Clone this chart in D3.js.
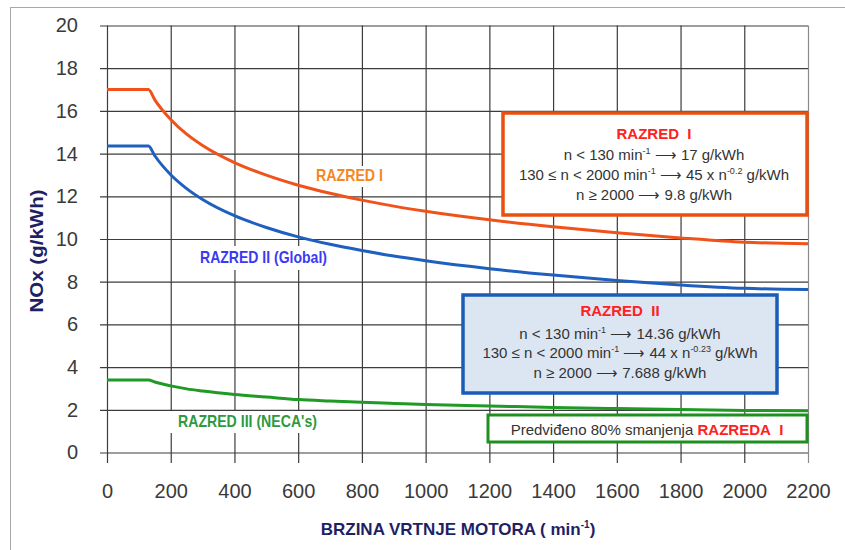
<!DOCTYPE html>
<html>
<head>
<meta charset="utf-8">
<script src="https://cdn.jsdelivr.net/npm/d3@7"></script>
<style>
  html, body { margin: 0; padding: 0; background: #fff; }
  svg { display: block; }
  .narrow { font-family: "Liberation Sans Narrow", "Arial Narrow", "Liberation Sans", Arial, sans-serif; }
</style>
</head>
<body>
<svg id="chart" width="845" height="550"></svg>
<script>
// ---- data ----
const speeds   = [0, 130, 150, 200, 250, 300, 400, 500, 600, 700, 800, 900, 1000, 1200, 1400, 1600, 1800, 2000, 2200];
const razredI  = [17, 17, 16.52, 15.60, 14.91, 14.38, 13.58, 12.99, 12.52, 12.14, 11.82, 11.54, 11.30, 10.90, 10.57, 10.29, 10.05, 9.85, 9.78];
const razredII = [14.36, 14.36, 13.90, 13.01, 12.36, 11.85, 11.09, 10.54, 10.10, 9.75, 9.46, 9.20, 8.98, 8.61, 8.31, 8.06, 7.85, 7.69, 7.63];
const razredIII= [3.40, 3.40, 3.30, 3.12, 2.98, 2.88, 2.72, 2.60, 2.48, 2.41, 2.35, 2.30, 2.25, 2.18, 2.11, 2.06, 2.01, 1.97, 1.95];
const xTicks = [0, 200, 400, 600, 800, 1000, 1200, 1400, 1600, 1800, 2000, 2200];
const yTicks = [0, 2, 4, 6, 8, 10, 12, 14, 16, 18, 20];

const svg = d3.select("#chart");

// outer frame
svg.append("rect").attr("x", 10.5).attr("y", 7.5).attr("width", 860).attr("height", 580)
  .attr("fill", "none").attr("stroke", "#a8a8a8").attr("stroke-width", 1);

const x = d3.scaleLinear().domain([0, 2200]).range([107, 808]);
const y = d3.scaleLinear().domain([0, 20]).range([452.5, 25.5]);

const gridColor = "#3c3c3c";

// y axis with gridlines
const yAxis = svg.append("g").attr("transform", `translate(${x(0)},0)`)
  .call(d3.axisLeft(y).tickValues(yTicks).tickFormat(d3.format("d"))
    .tickSize(-(x(2200) - x(0))).tickSizeOuter(0).tickPadding(29));
yAxis.select(".domain").remove();
yAxis.selectAll(".tick line").attr("x1", -7).attr("stroke", gridColor).attr("stroke-width", 1.2);
yAxis.selectAll(".tick text").attr("font-family", "Liberation Sans, Arial, sans-serif")
  .attr("font-size", 20).attr("fill", "#3a3a3a");

// x axis with gridlines
const xAxis = svg.append("g").attr("transform", `translate(0,${y(0)})`)
  .call(d3.axisBottom(x).tickValues(xTicks).tickFormat(d3.format("d"))
    .tickSize(-(y(0) - y(20))).tickSizeOuter(0).tickPadding(31));
xAxis.select(".domain").remove();
xAxis.selectAll(".tick line").attr("y1", 10.5)
  .attr("stroke", (d) => d === 2200 ? "#8a8a8a" : gridColor).attr("stroke-width", 1.2);
xAxis.selectAll(".tick text").attr("font-family", "Liberation Sans, Arial, sans-serif")
  .attr("font-size", 20).attr("fill", "#3a3a3a");

// curves
const series = [
  { vals: razredI,   color: "#f0521a" },
  { vals: razredII,  color: "#1f5fbe" },
  { vals: razredIII, color: "#1f9a24" }
];
const line = d3.line().x((d) => x(d[0])).y((d) => y(d[1])).curve(d3.curveMonotoneX);
svg.append("g").selectAll("path").data(series).join("path")
  .attr("d", (s) => line(speeds.map((n, i) => [n, s.vals[i]])))
  .attr("fill", "none").attr("stroke", (s) => s.color).attr("stroke-width", 3);

// curve labels with white backgrounds
function label(txt, lx, ly, color, bg, len) {
  svg.append("rect").attr("x", bg[0]).attr("y", bg[1]).attr("width", bg[2]).attr("height", bg[3]).attr("fill", "#fff");
  svg.append("text").attr("class", "narrow").attr("x", lx).attr("y", ly)
    .attr("font-size", 17).attr("font-weight", "bold").attr("fill", color)
    .attr("textLength", len).attr("lengthAdjust", "spacingAndGlyphs").text(txt);
}
label("RAZRED I", 316, 181, "#f5871f", [314, 166, 72, 21], 67);
label("RAZRED II (Global)", 200, 263, "#3a3af5", [195, 246, 136, 24], 127);
label("RAZRED III (NECA's)", 178, 427, "#2e9a40", [165, 411, 167, 22], 139);

// info boxes
function box(bx, by, bw, bh, stroke, fill, sw) {
  svg.append("rect").attr("x", bx).attr("y", by).attr("width", bw).attr("height", bh)
    .attr("fill", fill).attr("stroke", stroke).attr("stroke-width", sw);
}
function boxText(cx, cy, parts, size) {
  const t = svg.append("text").attr("class", "narrow").attr("x", cx).attr("y", cy)
    .attr("text-anchor", "middle").attr("font-size", size).attr("fill", "#333")
    .style("white-space", "pre");
  parts.forEach((p) => {
    const ts = t.append("tspan").text(p.t);
    if (p.sup) ts.attr("font-size", size * 0.6).attr("dy", -size * 0.38);
    if (p.unsup) ts.attr("dy", size * 0.38);
    if (p.red) ts.attr("fill", "#ff2020").attr("font-weight", "bold");
  });
  return t;
}
const AR = "\u27F6";

// Box I
box(503, 113, 304, 102, "#e8500f", "#fff", 3.5);
boxText(654, 139, [{ t: "RAZRED\u00a0\u00a0I", red: true }], 15);
boxText(654, 160, [{ t: "n < 130 min" }, { t: "-1", sup: true }, { t: " " + AR + " 17 g/kWh", unsup: true }], 15);
boxText(654, 180, [{ t: "130 \u2264 n < 2000 min" }, { t: "-1", sup: true }, { t: " " + AR + " 45 x n", unsup: true }, { t: "-0.2", sup: true }, { t: " g/kWh", unsup: true }], 15);
boxText(654, 200, [{ t: "n \u2265 2000 " + AR + " 9.8 g/kWh" }], 15);

// Box II
box(463, 295, 314, 98, "#1a5cb8", "#dce6f2", 3.5);
boxText(620, 316, [{ t: "RAZRED\u00a0\u00a0II", red: true }], 15);
boxText(620, 339, [{ t: "n < 130 min" }, { t: "-1", sup: true }, { t: " " + AR + " 14.36 g/kWh", unsup: true }], 15);
boxText(620, 358, [{ t: "130 \u2264 n < 2000 min" }, { t: "-1", sup: true }, { t: " " + AR + " 44 x n", unsup: true }, { t: "-0.23", sup: true }, { t: " g/kWh", unsup: true }], 15);
boxText(620, 378, [{ t: "n \u2265 2000 " + AR + " 7.688 g/kWh" }], 15);

// Box III
box(488, 415, 319, 27, "#1f8f1f", "#fff", 3);
boxText(647, 435, [{ t: "Predvi\u0111eno 80% smanjenja " }, { t: "RAZREDA\u00a0\u00a0I", red: true }], 15);

// axis titles
svg.append("text").attr("class", "narrow")
  .attr("transform", "translate(43,251) rotate(-90)")
  .attr("text-anchor", "middle").attr("font-size", 19).attr("font-weight", "bold")
  .attr("textLength", 123).attr("lengthAdjust", "spacingAndGlyphs")
  .attr("fill", "#1f1f66").text("NOx (g/kWh)");

const xt = svg.append("text").attr("class", "narrow").attr("x", 458).attr("y", 535)
  .attr("text-anchor", "middle")
  .attr("font-size", 17).attr("font-weight", "bold").attr("fill", "#1f1f66");
xt.append("tspan").text("BRZINA VRTNJE MOTORA ( min");
xt.append("tspan").attr("font-size", 10).attr("dy", -7).text("-1");
xt.append("tspan").attr("dy", 7).text(")");
</script>
</body>
</html>
